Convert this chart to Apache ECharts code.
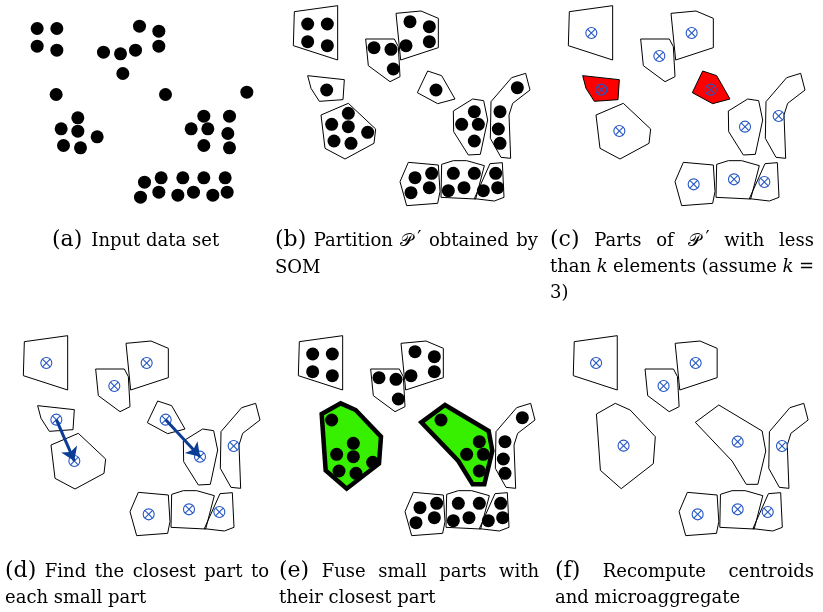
<!DOCTYPE html>
<html>
<head>
<meta charset="utf-8">
<script src="https://cdn.jsdelivr.net/npm/echarts@6/dist/echarts.min.js"></script>
<style>
html,body{margin:0;padding:0;background:#fff}
#chart{width:823px;height:612px}
</style>
</head>
<body>
<div id="chart"></div>
<script>
// ---- Data (drawing units: 3 units = 1 screen pixel inside a panel) ----

// Member points of each part of the SOM partition
const pointsA = [[68,57],[127,57],[68,110],[127,122]];
const pointsB = [[375,50],[433,65],[363,122],[433,110]];
const pointsC = [[267,128],[318,133],[325,192]];
const pointsD = [[125,255]];
const pointsE = [[453,255]];
const pointsF = [[190,325],[140,358],[190,365],[248,382],[147,408],[198,415]];
const pointsG = [[568,320],[530,358],[580,358],[568,408]];
const pointsH = [[697,248],[645,320],[640,372],[645,415]];
const pointsI = [[390,518],[440,505],[378,563],[433,548]];
const pointsJ = [[505,505],[568,505],[490,557],[537,548]];
const pointsK = [[632,505],[595,557],[638,548]];

// Outline of each part
const hullA = [[28,20],[158,2],[158,165],[25,122]];
const hullB = [[333,25],[408,18],[460,40],[460,128],[347,165]];
const hullC = [[242,102],[328,102],[340,125],[345,215],[315,230],[250,182]];
const hullD = [[68,212],[178,224],[174,284],[103,289],[78,250]];
const hullE = [[428,198],[470,212],[510,282],[458,296],[397,263]];
const hullF = [[108,330],[190,295],[272,372],[267,415],[180,462],[120,430]];
const hullG = [[505,318],[563,282],[596,287],[608,345],[586,448],[550,450],[506,380]];
const hullH = [[618,290],[680,218],[722,205],[735,255],[683,295],[672,330],[677,460],[648,457],[616,400]];
const hullI = [[370,472],[460,480],[465,560],[458,595],[365,602],[345,530]];
const hullJ = [[470,478],[505,467],[545,467],[598,482],[572,582],[468,577]];
const hullK = [[615,476],[652,473],[657,577],[628,588],[568,581]];

// Centroid of each part
const centroidA = [94,84];
const centroidB = [395,84];
const centroidC = [298,153];
const centroidD = [124,254];
const centroidE = [452,254];
const centroidF = [178,378];
const centroidG = [555,365];
const centroidH = [656,333];
const centroidI = [401,538];
const centroidJ = [522,523];
const centroidK = [613,531];

// Parts obtained by fusing D into F and E into G
const hullDF = [[95,237],[152,205],[197,225],[273,305],[267,386],[170,461],[107,406]];
const hullEG = [[394,262],[465,210],[596,288],[607,348],[583,448],[548,448],[505,378]];
const centroidDF = [177,332];
const centroidEG = [522,320];

// Small parts (fewer than k = 3 elements) and their closest part
const smallParts = ['D','E'];
const closestPart = ['F','G'];

// ---- Assembly ----
const parts = {
  A:{pts:pointsA, hull:hullA, c:centroidA}, B:{pts:pointsB, hull:hullB, c:centroidB},
  C:{pts:pointsC, hull:hullC, c:centroidC}, D:{pts:pointsD, hull:hullD, c:centroidD},
  E:{pts:pointsE, hull:hullE, c:centroidE}, F:{pts:pointsF, hull:hullF, c:centroidF},
  G:{pts:pointsG, hull:hullG, c:centroidG}, H:{pts:pointsH, hull:hullH, c:centroidH},
  I:{pts:pointsI, hull:hullI, c:centroidI}, J:{pts:pointsJ, hull:hullJ, c:centroidJ},
  K:{pts:pointsK, hull:hullK, c:centroidK}
};
const allNames = Object.keys(parts);
const keptNames = allNames.filter(n => smallParts.indexOf(n) < 0 && closestPart.indexOf(n) < 0);
const allPoints = allNames.reduce((acc, n) => acc.concat(parts[n].pts), []);

// Panel placement (px) — each panel spans 260 x 210 px
const panelOrigins = [[14.5,9.5],[285,5],[560,5],[15,335],[290,335],[565,335]];
const spanX = 780, spanY = 630;

const BLUE = '#2456c4';
const ARROW = '#0b3c96';
const GREEN = '#36f000';

const grids = panelOrigins.map(o => ({left:o[0], top:o[1], width:spanX/3, height:spanY/3, show:false}));
const xAxes = panelOrigins.map((o,i) => ({gridIndex:i, type:'value', min:0, max:spanX, show:false}));
const yAxes = panelOrigins.map((o,i) => ({gridIndex:i, type:'value', min:0, max:spanY, inverse:true, show:false}));

function polygonSeries(panel, hulls, styleFn) {
  return {
    type:'custom', xAxisIndex:panel, yAxisIndex:panel, clip:false, silent:true,
    data: hulls.map(h => [h[0][0], h[0][1]]),
    encode:{x:0, y:1},
    renderItem: function (params, api) {
      const pts = hulls[params.dataIndex].map(p => api.coord(p));
      return {type:'polygon', shape:{points:pts}, style:styleFn(params.dataIndex)};
    },
    z: 1
  };
}
function pointSeries(panel, pts) {
  return {
    type:'scatter', xAxisIndex:panel, yAxisIndex:panel, data:pts, silent:true,
    symbol:'circle', symbolSize:13, itemStyle:{color:'#000', opacity:1}, z:3
  };
}
function markerSeries(panel, cs) {
  return {
    type:'custom', xAxisIndex:panel, yAxisIndex:panel, clip:false, silent:true,
    data: cs, encode:{x:0, y:1},
    renderItem: function (params, api) {
      const p = api.coord([api.value(0), api.value(1)]);
      const r = 5.5, d = r * 0.7;
      const st = {stroke:BLUE, lineWidth:1.1, fill:null};
      return {type:'group', children:[
        {type:'circle', shape:{cx:p[0], cy:p[1], r:r}, style:{stroke:BLUE, lineWidth:1.1, fill:'rgba(0,0,0,0)'}},
        {type:'line', shape:{x1:p[0]-d, y1:p[1]-d, x2:p[0]+d, y2:p[1]+d}, style:st},
        {type:'line', shape:{x1:p[0]-d, y1:p[1]+d, x2:p[0]+d, y2:p[1]-d}, style:st}
      ]};
    },
    z: 4
  };
}

const plain = () => ({fill:'none', stroke:'#000', lineWidth:1});
const series = [];

// (a) input data set
series.push(pointSeries(0, allPoints));

// (b) partition
series.push(polygonSeries(1, allNames.map(n => parts[n].hull), plain));
series.push(pointSeries(1, allPoints));

// (c) small parts highlighted
series.push(polygonSeries(2, allNames.map(n => parts[n].hull), i =>
  smallParts.indexOf(allNames[i]) >= 0 ? {fill:'#ff0000', stroke:'#000', lineWidth:1} : plain()));
series.push(markerSeries(2, allNames.map(n => parts[n].c)));

// (d) closest part of each small part
series.push(polygonSeries(3, allNames.map(n => parts[n].hull), plain));
series.push(markerSeries(3, allNames.map(n => parts[n].c)));
series.push({
  type:'lines', coordinateSystem:'cartesian2d', xAxisIndex:3, yAxisIndex:3, silent:true,
  symbol:['none','arrow'], symbolSize:[0,13],
  lineStyle:{color:ARROW, width:3, opacity:1},
  data: smallParts.map((s,i) => ({coords:[parts[s].c, parts[closestPart[i]].c]})),
  z: 5
});

// (e) fused parts
const fusedHulls = [hullDF, hullEG];
series.push(polygonSeries(4, keptNames.map(n => parts[n].hull), plain));
series.push(polygonSeries(4, fusedHulls, () => ({fill:GREEN, stroke:'#000', lineWidth:4.5, lineJoin:'miter'})));
series.push(pointSeries(4, allPoints));

// (f) recomputed centroids
series.push(polygonSeries(5, keptNames.map(n => parts[n].hull).concat(fusedHulls), plain));
series.push(markerSeries(5, keptNames.map(n => parts[n].c).concat([centroidDF, centroidEG])));

// ---- Captions ----
const fam = '"DejaVu Serif", "Liberation Serif", serif';
const textSize = 18, labelSize = 22;
const primeShift = 4;
function sizeOf(kind) { return kind === 'label' ? labelSize : textSize; }
function fontOf(kind) {
  if (kind === 'label') return labelSize + 'px ' + fam;
  if (kind === 'ital') return 'italic ' + textSize + 'px ' + fam;
  return textSize + 'px ' + fam;
}
const mctx = document.createElement('canvas').getContext('2d');
function widthOf(t, kind) {
  mctx.font = fontOf(kind);
  if (kind === 'math') return mctx.measureText(t).width + primeShift + mctx.measureText('\u2032').width;
  return mctx.measureText(t).width;
}

const captionLines = [
  {x:52, base:246, tokens:[['(a)','label'],['Input data set']]},
  {x:275, right:538, base:246, tokens:[['(b)','label'],['Partition'],['\u{1D4AB}','math'],['obtained'],['by']]},
  {x:275, base:273, tokens:[['SOM']]},
  {x:550, right:814, base:246, tokens:[['(c)','label'],['Parts'],['of'],['\u{1D4AB}','math'],['with'],['less']]},
  {x:550, right:814, base:272, tokens:[['than'],['k','ital'],['elements'],['(assume'],['k','ital'],['=']]},
  {x:550, base:298, tokens:[['3)']]},
  {x:5, right:269, base:577, tokens:[['(d)','label'],['Find'],['the'],['closest'],['part'],['to']]},
  {x:5, base:603, tokens:[['each small part']]},
  {x:279, right:539, base:577, tokens:[['(e)','label'],['Fuse'],['small'],['parts'],['with']]},
  {x:279, base:603, tokens:[['their closest part']]},
  {x:555, right:814, base:577, tokens:[['(f)','label'],['Recompute'],['centroids']]},
  {x:555, base:603, tokens:[['and microaggregate']]}
];

const graphics = [];
function addText(str, kind, x, base) {
  graphics.push({
    type:'text', x:x, y:base + 0.235 * sizeOf(kind), silent:true,
    style:{text:str, font:fontOf(kind), fill:'#000', textAlign:'left', textVerticalAlign:'bottom',
           align:'left', verticalAlign:'bottom'}
  });
}
captionLines.forEach(line => {
  const widths = line.tokens.map(t => widthOf(t[0], t[1]));
  let gap;
  if (line.right !== undefined && line.tokens.length > 1) {
    const total = widths.reduce((a,b) => a + b, 0);
    gap = (line.right - line.x - total) / (line.tokens.length - 1);
  } else {
    gap = 9;
  }
  let x = line.x;
  line.tokens.forEach((t, i) => {
    addText(t[0], t[1], x, line.base);
    if (t[1] === 'math') {
      mctx.font = fontOf('math');
      addText('\u2032', 'text', x + mctx.measureText(t[0]).width + primeShift, line.base - 2);
    }
    x += widths[i] + gap;
  });
});

const chart = echarts.init(document.getElementById('chart'), null, {renderer:'canvas'});
chart.setOption({
  animation:false,
  backgroundColor:'#fff',
  grid:grids, xAxis:xAxes, yAxis:yAxes,
  series:series,
  graphic:graphics
});
</script>
</body>
</html>
